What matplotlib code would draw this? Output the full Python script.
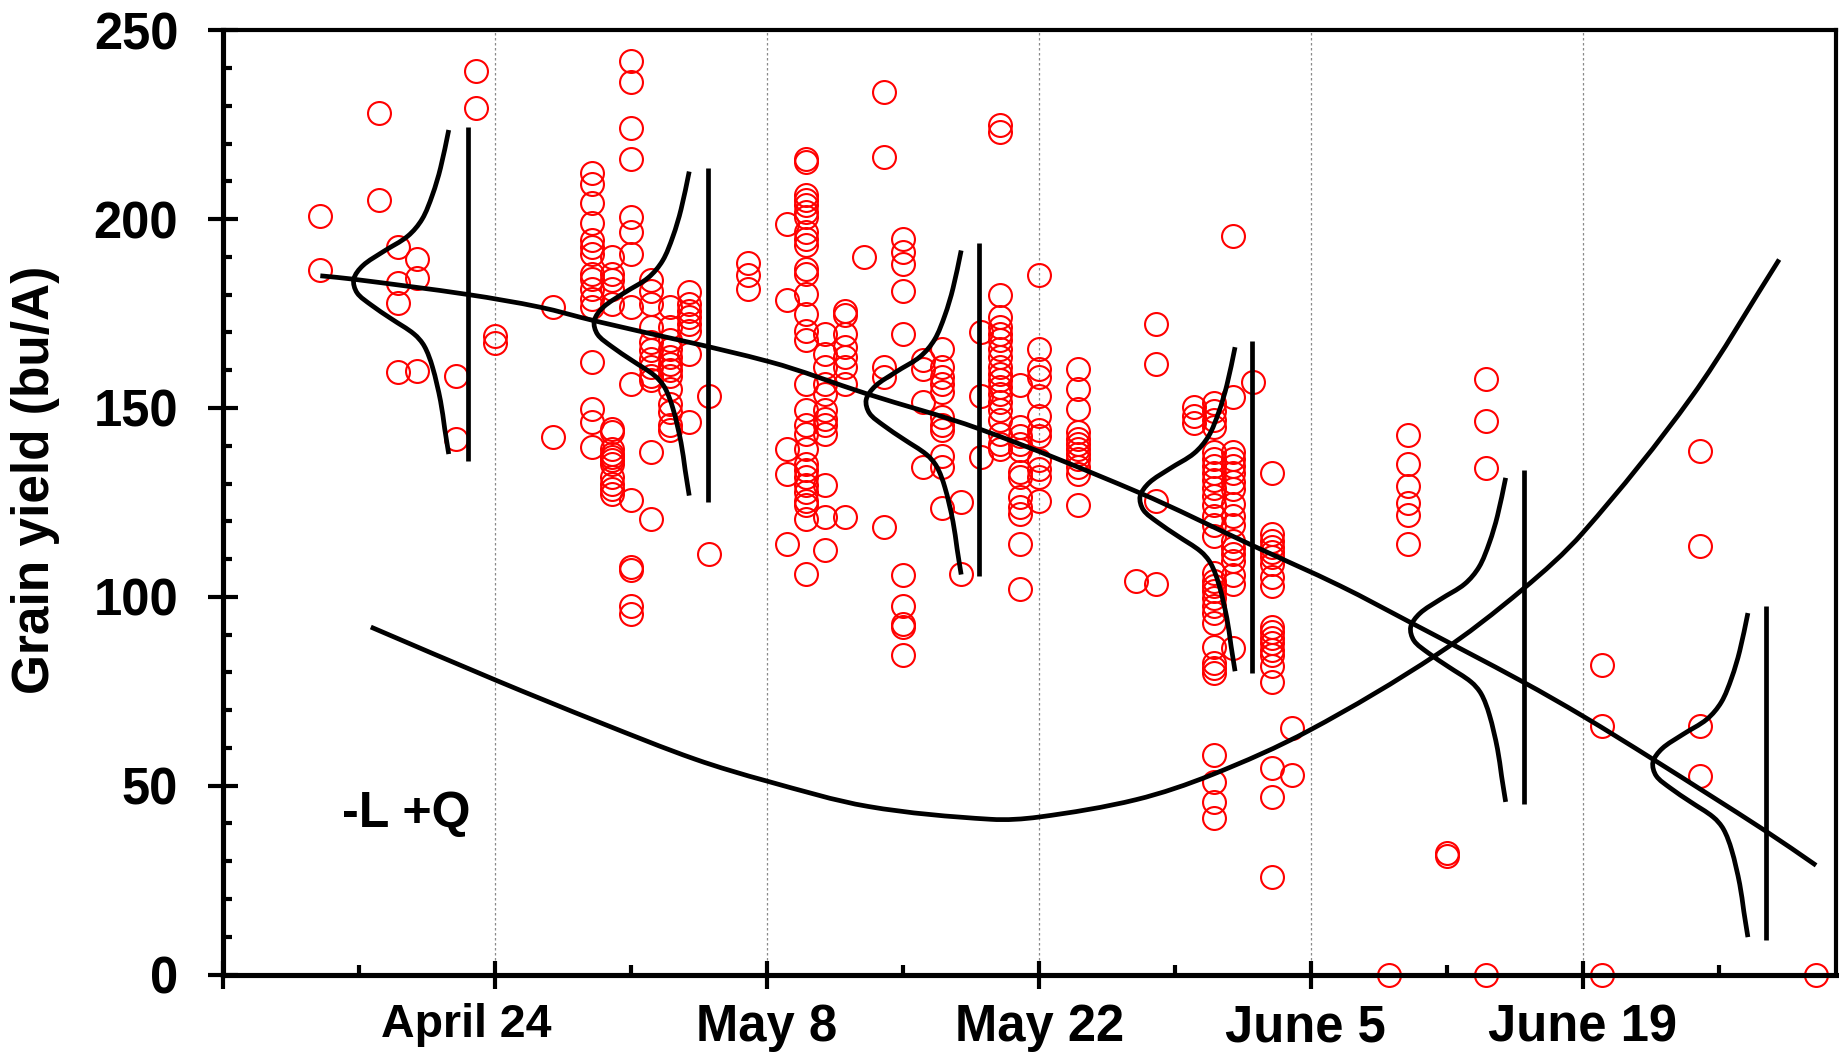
import numpy as np
import matplotlib
matplotlib.use("Agg")
import matplotlib.pyplot as plt
from matplotlib.path import Path
from matplotlib.patches import PathPatch
from matplotlib.ticker import FixedLocator, FixedFormatter, MultipleLocator
import matplotlib.transforms as mtransforms

plt.rcParams['font.family'] = ['Liberation Sans', 'DejaVu Sans']
plt.rcParams['font.weight'] = 'bold'

# ---------------- data (day of year, grain yield bu/A) ----------------
obs_doy = [105, 108, 109, 110, 112, 113, 114, 117, 119, 120, 121, 122, 123, 124,
           125, 127, 129, 130, 131, 132, 133, 134, 135, 136, 137, 138, 139, 140,
           141, 142, 144, 147, 148, 150, 151, 152, 153, 154, 155, 160, 161, 163,
           165, 171, 176, 182]
obs_yield = [
    [200.8, 186.6],
    [228.0, 205.1],
    [192.5, 183.0, 177.7, 159.6],
    [189.4, 184.3, 159.9],
    [158.5, 141.7],
    [239.2, 229.5],
    [169.0, 167.2],
    [176.8, 142.2],
    [212.2, 209.2, 204.4, 199.0, 194.4, 192.5, 190.9, 185.5, 184.2, 181.6, 178.9, 176.7,
     162.2, 149.8, 146.3, 139.7],
    [190.0, 185.6, 183.8, 181.6, 177.6, 144.5, 143.6, 139.2, 137.9, 137.0, 136.1, 135.2,
     131.7, 129.9, 128.6, 127.3],
    [241.9, 236.3, 224.0, 216.0, 200.6, 196.6, 190.9, 176.7, 156.4, 125.7, 107.9, 107.2,
     97.7, 95.5],
    [183.8, 181.1, 177.6, 171.4, 167.5, 165.3, 163.1, 160.8, 158.6, 157.3, 138.3, 120.7],
    [176.7, 171.4, 167.9, 165.7, 163.5, 161.7, 160.0, 158.6, 155.1, 151.1, 148.9, 145.4, 144.1],
    [180.7, 177.6, 175.8, 174.1, 172.3, 170.5, 164.4, 146.3],
    [153.2, 111.4],
    [188.4, 185.1, 181.6],
    [198.8, 178.5, 139.2, 132.6, 113.9],
    [216.0, 215.1, 206.3, 205.0, 203.7, 201.9, 200.6, 196.6, 194.8, 193.1, 186.9, 185.6,
     180.3, 175.0, 170.5, 167.9, 156.4, 149.4, 145.4, 143.2, 139.2, 135.2, 133.5, 131.7,
     129.5, 127.7, 125.5, 124.2, 120.7, 106.1],
    [169.7, 164.4, 160.8, 156.4, 153.8, 149.4, 147.2, 145.4, 143.2, 129.5, 121.1, 112.3],
    [175.8, 174.5, 169.7, 166.1, 163.5, 160.8, 156.4, 121.1],
    [190.0],
    [233.7, 216.5, 160.8, 158.2, 118.5],
    [194.8, 191.3, 188.2, 181.1, 169.7, 105.9, 97.7, 92.9, 92.0, 84.5],
    [162.6, 160.4, 151.6, 134.4],
    [165.7, 160.8, 158.2, 156.4, 154.2, 147.6, 145.4, 144.1, 137.4, 134.4, 123.6],
    [125.1, 106.1],
    [170.1, 153.3, 137.0],
    [224.8, 223.1, 179.8, 174.1, 171.4, 169.7, 167.9, 165.7, 163.5, 160.8, 159.1, 157.3,
     155.5, 153.8, 151.6, 149.4, 146.7, 143.2, 140.5, 139.2],
    [156.0, 144.9, 142.7, 140.5, 138.8, 133.0, 131.7, 126.4, 123.8, 122.0, 114.1, 102.0],
    [185.1, 165.7, 160.4, 158.2, 153.3, 148.0, 144.1, 142.7, 136.1, 133.9, 131.7, 125.5],
    [160.4, 155.1, 149.8, 143.6, 141.9, 140.5, 139.2, 137.9, 136.6, 134.4, 132.6, 124.2],
    [104.1],
    [172.3, 161.7, 125.5, 103.4],
    [150.2, 147.9, 146.0],
    [151.2, 149.3, 146.9, 145.0, 138.4, 136.5, 134.6, 132.7, 130.8, 128.9, 126.6, 124.2,
     121.4, 119.0, 116.2, 106.2, 104.3, 102.9, 101.5, 99.6, 97.7, 95.8, 93.0, 86.8, 82.6,
     81.2, 79.7, 58.0, 50.9, 45.7, 41.5],
    [195.5, 153.0, 138.4, 136.5, 134.6, 132.7, 130.4, 128.5, 124.7, 121.4, 119.0, 114.8,
     112.9, 111.4, 109.5, 105.8, 103.4, 86.4],
    [156.8],
    [132.7, 116.6, 114.8, 113.3, 111.9, 110.5, 108.6, 105.3, 102.9, 92.1, 90.6, 89.2, 87.8,
     85.9, 84.5, 81.7, 77.4, 54.7, 47.1, 25.8],
    [65.2, 52.7],
    [0.0],
    [142.9, 135.3, 129.4, 124.8, 121.6, 114.1],
    [32.1, 31.4],
    [157.6, 146.5, 134.1, 0.0],
    [81.9, 65.7, 0.0],
    [138.5, 113.4, 65.9, 52.5],
    [0.0],
]

# fitted mean yield curve
mean_doy = [105.0, 106.7, 112.65, 116.3, 119.1, 128.15, 133.1, 138.9, 147.1, 152.9,
            157.5, 161.2, 166.9, 170.0, 173.6, 179.4, 182.0]
mean_yield = [185.0, 184.1, 180.0, 176.7, 173.1, 162.2, 153.8, 144.5, 127.7, 113.8,
              102.9, 93.0, 77.5, 68.4, 57.0, 38.0, 28.9]

# variance curve "-L +Q"
var_doy = [107.6, 114.0, 119.4, 124.3, 128.0, 133.2, 139.5, 142.0, 147.0, 150.9, 155.9,
           162.5, 166.9, 170.0, 175.6, 180.1]
var_val = [92.0, 78.0, 66.7, 57.0, 51.2, 44.5, 41.1, 41.7, 46.3, 52.9, 64.6,
           84.8, 102.0, 117.0, 153.0, 189.3]

# probability distributions drawn at six dates
dist_peak_doy = [106.72, 119.1, 133.1, 147.2, 161.13, 173.6]
dist_mean = [184.1, 173.1, 152.2, 126.6, 92.0, 56.2]
dist_dy = [39.5, 29.5, 22.3, 15.9, 11.4, 7.3, 3.6, 0.0, -3.6, -6.8, -10.5, -14.5, -17.7,
           -23.2, -32.3, -39.5, -46.3]
dist_dx = [4.89, 4.47, 4.05, 3.52, 2.78, 1.52, 0.47, 0.0, 0.17, 0.89, 1.94, 3.10, 3.63,
           4.05, 4.47, 4.68, 4.89]
bar_doy = [112.58, 124.94, 138.93, 152.95, 166.98, 179.42]
bar_hi = [224.4, 213.5, 193.6, 167.8, 133.7, 97.5]
bar_lo = [136.0, 125.1, 105.4, 79.7, 45.1, 9.2]

major_doy = [100, 114, 128, 142, 156, 170]
major_lab = ['', 'April 24', 'May 8', 'May 22', 'June 5', 'June 19']
minor_doy = [107, 121, 135, 149, 163, 177]

X_LIM = (100, 183)
Y_LIM = (0, 250)


def smooth_path(xs, ys, sx, sy):
    """Chord-length Catmull-Rom spline through the read points, as Bezier path."""
    P = np.column_stack([np.asarray(xs, float) * sx, np.asarray(ys, float) * sy])
    n = len(P)
    d = np.sqrt(((P[1:] - P[:-1]) ** 2).sum(axis=1))
    t = np.concatenate([[0.0], np.cumsum(d)])
    M = np.zeros_like(P)
    for i in range(n):
        if i == 0:
            M[i] = (P[1] - P[0]) / (t[1] - t[0])
        elif i == n - 1:
            M[i] = (P[-1] - P[-2]) / (t[-1] - t[-2])
        else:
            M[i] = (P[i + 1] - P[i - 1]) / (t[i + 1] - t[i - 1])
    verts = [P[0]]
    codes = [Path.MOVETO]
    for i in range(n - 1):
        h = t[i + 1] - t[i]
        verts += [P[i] + M[i] * h / 3.0, P[i + 1] - M[i + 1] * h / 3.0, P[i + 1]]
        codes += [Path.CURVE4] * 3
    V = np.array(verts)
    V[:, 0] /= sx
    V[:, 1] /= sy
    return Path(V, codes)


fig = plt.figure(figsize=(18.39, 10.58), dpi=100)
ax_rect = [0.12137, 0.07892, 0.87673, 0.89244]
ax = fig.add_axes(ax_rect)
SX = ax_rect[2] * 1839 / (X_LIM[1] - X_LIM[0])
SY = ax_rect[3] * 1058 / (Y_LIM[1] - Y_LIM[0])

xs = []
ys = []
for d, vals in zip(obs_doy, obs_yield):
    xs += [d] * len(vals)
    ys += vals
ax.plot(xs, ys, 'o', mfc='none', mec='#ff0000', ms=16.5, mew=1.5,
        clip_on=False, zorder=2, linestyle='none')

lw = 3.4
ax.add_patch(PathPatch(smooth_path(mean_doy, mean_yield, SX, SY), fill=False, lw=lw,
                       ec='black', zorder=3))
ax.add_patch(PathPatch(smooth_path(var_doy, var_val, SX, SY), fill=False, lw=lw,
                       ec='black', zorder=3))
for pk, mu in zip(dist_peak_doy, dist_mean):
    bx = [pk + d for d in dist_dx]
    by = [mu + d for d in dist_dy]
    ax.add_patch(PathPatch(smooth_path(bx, by, SX, SY), fill=False, lw=lw, ec='black',
                           zorder=3))
ax.vlines(bar_doy, bar_lo, bar_hi, colors='black', lw=lw, zorder=3)

ax.text(106.1, 39.1, '-L +Q', fontsize=36, fontweight='bold', ha='left',
        va='baseline')

ax.set_xlim(*X_LIM)
ax.set_ylim(*Y_LIM)
ax.xaxis.set_major_locator(FixedLocator(major_doy))
ax.xaxis.set_major_formatter(FixedFormatter(major_lab))
ax.xaxis.set_minor_locator(FixedLocator(minor_doy))
ax.yaxis.set_major_locator(MultipleLocator(50))
ax.yaxis.set_minor_locator(MultipleLocator(10))

ax.grid(axis='x', which='major', color='#8a8a8a', lw=0.9, linestyle=(0, (2, 2)))
ax.set_axisbelow(True)

ax.tick_params(axis='x', which='major', direction='inout', length=19.5, width=3.0,
               labelsize=36.5, pad=11)
ax.tick_params(axis='x', which='minor', direction='in', length=7.4, width=3.0)
ax.tick_params(axis='y', which='major', direction='inout', length=21.6, width=3.0,
               labelsize=36.5, pad=21.5)
ax.tick_params(axis='y', which='minor', direction='in', length=6.5, width=3.0)
for lab in ax.get_xticklabels() + ax.get_yticklabels():
    lab.set_fontweight('bold')

ax.spines['left'].set_linewidth(3.7)
ax.spines['bottom'].set_linewidth(3.7)
ax.spines['top'].set_linewidth(3.0)
ax.spines['right'].set_linewidth(3.0)

# the first date label is smaller and sits slightly left in the reference
tick = ax.xaxis.get_major_ticks()[1]
tick.label1.set_fontsize(33.5)
tick.label1.set_transform(tick.label1.get_transform() +
                          mtransforms.ScaledTranslation(-29 / 100, 0, fig.dpi_scale_trans))
tick5 = ax.xaxis.get_major_ticks()[4]
tick5.label1.set_transform(tick5.label1.get_transform() +
                           mtransforms.ScaledTranslation(-6 / 100, 0, fig.dpi_scale_trans))

fig.text(36 / 1839, 1 - 480 / 1058, 'Grain yield (bu/A)', rotation=90, ha='center',
         va='center', fontsize=37, fontweight='bold')

fig.savefig('out.png', dpi=100)
